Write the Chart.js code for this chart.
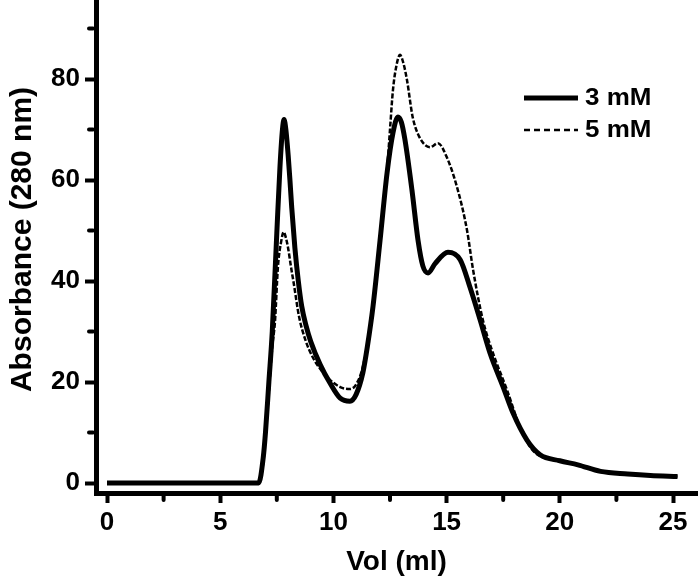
<!DOCTYPE html>
<html>
<head>
<meta charset="utf-8">
<script src="https://cdn.jsdelivr.net/npm/chart.js@4.4.1/dist/chart.umd.min.js"></script>
<style>
  html, body { margin: 0; padding: 0; background: #fff; }
  #wrap { width: 700px; height: 579px; position: relative; }
</style>
</head>
<body>
<div id="wrap"><canvas id="c" width="700" height="579"></canvas></div>
<script>
// ---- Data ----
const vol3 = [0, 6.7, 6.9, 7.0, 7.15, 7.3, 7.5, 7.64, 7.75, 7.82, 7.9, 8.0, 8.08, 8.16, 8.3, 8.45, 8.6, 8.8, 9.0, 9.41, 9.85, 10.3, 10.73, 11.0, 11.3, 11.5, 11.75, 12.06, 12.37, 12.63, 12.85, 13.0, 13.16, 13.47, 13.74, 13.95, 14.18, 14.5, 15.06, 15.6, 16.03, 16.48, 16.92, 17.5, 17.93, 18.55, 19.13, 20.0, 20.8, 21.8, 23.0, 24.0, 25.2];
const abs3 = [0, 0, 5, 10, 20, 30, 49.5, 62.6, 70, 72, 70, 65, 60, 54.5, 46.5, 40, 35, 31, 28, 23.5, 19.8, 16.8, 16.2, 17.5, 21.8, 27, 35, 48, 61.4, 69.3, 72.5, 71.5, 68, 58, 48, 43, 41.6, 43.5, 45.7, 44.2, 38.8, 32.3, 25.7, 19, 13.9, 8.5, 5.6, 4.4, 3.6, 2.3, 1.8, 1.5, 1.3];
const vol5 = [0, 6.7, 6.9, 7.0, 7.15, 7.3, 7.42, 7.55, 7.7, 7.8, 7.9, 8.0, 8.12, 8.25, 8.48, 8.75, 9.1, 9.72, 10.3, 10.73, 11.0, 11.3, 11.75, 12.06, 12.37, 12.5, 12.63, 12.8, 12.94, 13.1, 13.25, 13.5, 13.8, 14.27, 14.62, 15.0, 15.46, 15.9, 16.17, 16.6, 17.05, 17.67, 18.24, 18.8, 19.7, 20.8, 21.8, 23.0, 24.0, 25.2];
const abs5 = [0, 0, 4, 9, 18, 27, 32, 42.8, 48, 49.7, 48.6, 46.5, 43, 39.5, 33, 28.5, 24.8, 21, 19, 18.6, 19.5, 23, 35, 48, 62, 70, 77.8, 83, 84.8, 83, 79.8, 72.5, 68.5, 66.5, 67.3, 64.6, 58.6, 50.1, 42.2, 32.3, 25.7, 18.4, 11.1, 6.5, 4.6, 3.6, 2.3, 1.8, 1.5, 1.3];
const seriesNames = ['3 mM', '5 mM'];
const xTicks = [0, 5, 10, 15, 20, 25];
const xMinorTicks = [2.5, 7.5, 12.5, 17.5, 22.5];
const yTicks = [0, 20, 40, 60, 80];
const yMinorTicks = [10, 30, 50, 70, 90];
const xTitle = 'Vol (ml)';
const yTitle = 'Absorbance (280 nm)';

const FONT = '"Liberation Sans", Arial, sans-serif';

const toXY = (xs, ys) => xs.map((x, i) => ({ x: x, y: ys[i] }));

const minorTicksPlugin = {
  id: 'minorTicks',
  afterDraw(chart) {
    const ctx = chart.ctx;
    const xs = chart.scales.x, ys = chart.scales.y;
    const area = chart.chartArea;
    ctx.save();
    ctx.strokeStyle = '#000';
    ctx.lineWidth = 4;
    ctx.lineCap = 'round';
    xMinorTicks.forEach(v => {
      const px = xs.getPixelForValue(v);
      ctx.beginPath(); ctx.moveTo(px, area.bottom + 3); ctx.lineTo(px, area.bottom + 7); ctx.stroke();
    });
    yMinorTicks.forEach(v => {
      const py = ys.getPixelForValue(v);
      ctx.beginPath(); ctx.moveTo(area.left - 3, py); ctx.lineTo(area.left - 7, py); ctx.stroke();
    });
    // y axis title
    ctx.save();
    ctx.translate(31, (area.top + area.bottom) / 2 - 8);
    ctx.rotate(-Math.PI / 2);
    ctx.fillStyle = '#000';
    ctx.font = 'bold 30px ' + FONT;
    ctx.textAlign = 'center';
    ctx.textBaseline = 'alphabetic';
    ctx.fillText(yTitle, 0, 0);
    ctx.restore();
    ctx.restore();
  }
};

const legendPlugin = {
  id: 'customLegend',
  afterDraw(chart) {
    const ctx = chart.ctx;
    const area = chart.chartArea;
    const x0 = area.right - 173, x1 = area.right - 119, tx = area.right - 112;
    const rows = [area.top + 96, area.top + 128];
    ctx.save();
    chart.data.datasets.forEach((ds, i) => {
      const y = rows[i];
      ctx.beginPath();
      ctx.strokeStyle = '#000';
      ctx.lineWidth = i === 0 ? 5 : 2.5;
      ctx.setLineDash(i === 0 ? [] : [6, 4]);
      ctx.moveTo(x0, y); ctx.lineTo(x1, y); ctx.stroke();
      ctx.setLineDash([]);
      ctx.save();
      ctx.translate(tx, y + 1);
      ctx.scale(1.13, 1);
      ctx.fillStyle = '#000';
      ctx.font = 'bold 23px ' + FONT;
      ctx.textBaseline = 'middle';
      ctx.textAlign = 'left';
      ctx.fillText(ds.label, 0, 0);
      ctx.restore();
    });
    ctx.restore();
  }
};

new Chart(document.getElementById('c'), {
  type: 'line',
  data: {
    datasets: [
      { label: seriesNames[0], data: toXY(vol3, abs3), borderColor: '#000', borderWidth: 5,
        pointRadius: 0, cubicInterpolationMode: 'monotone', fill: false },
      { label: seriesNames[1], data: toXY(vol5, abs5), borderColor: '#000', borderWidth: 2.5,
        borderDash: [5, 2], pointRadius: 0, cubicInterpolationMode: 'monotone', fill: false }
    ]
  },
  options: {
    responsive: false,
    animation: false,
    devicePixelRatio: 1,
    layout: { padding: { left: 0, right: 3, top: 2, bottom: 0 } },
    plugins: { legend: { display: false }, tooltip: { enabled: false } },
    scales: {
      x: {
        type: 'linear',
        min: -0.486, max: 26.06,
        afterFit(s) { s.height = 86; s.paddingLeft = 0; s.paddingRight = 0; },
        afterBuildTicks(s) { s.ticks = xTicks.map(v => ({ value: v })); },
        grid: { drawOnChartArea: false, drawTicks: true, tickLength: 10, tickWidth: 4, tickColor: '#000' },
        border: { display: true, color: '#000', width: 5 },
        ticks: { color: '#000', font: { family: FONT, size: 26, weight: 'bold' }, padding: 4, maxRotation: 0 },
        title: { display: true, text: xTitle, color: '#000', font: { family: FONT, size: 28, weight: 'bold' }, padding: { top: 0, bottom: 0 } }
      },
      y: {
        type: 'linear',
        min: -1.98, max: 95.25,
        afterFit(s) { s.width = 96; s.paddingTop = 0; s.paddingBottom = 0; },
        afterBuildTicks(s) { s.ticks = yTicks.map(v => ({ value: v })); },
        grid: { drawOnChartArea: false, drawTicks: true, tickLength: 11, tickWidth: 4, tickColor: '#000' },
        border: { display: true, color: '#000', width: 5 },
        ticks: { color: '#000', font: { family: FONT, size: 26, weight: 'bold' }, padding: 5 },
        title: { display: false }
      }
    }
  },
  plugins: [minorTicksPlugin, legendPlugin]
});
</script>
</body>
</html>
